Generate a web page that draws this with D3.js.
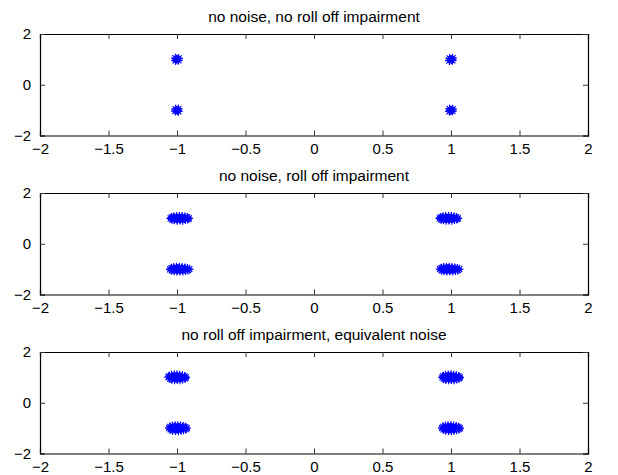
<!DOCTYPE html>
<html><head><meta charset="utf-8">
<script src="https://cdn.jsdelivr.net/npm/d3@7"></script>
<style>html,body{margin:0;padding:0;background:#fff;}svg{display:block;}</style>
</head><body>
<script>
const titles = [
  "no noise, no roll off impairment",
  "no noise, roll off impairment",
  "no roll off impairment, equivalent noise"
];
const xTicks = [-2, -1.5, -1, -0.5, 0, 0.5, 1, 1.5, 2];
const yTicks = [-2, 0, 2];

const noNoiseNoRollOff = [
  [-1.0,1.0],[-1.012,1.05],[-0.99,0.96],[-1.01,0.95],[-0.988,1.04],[-1.005,1.02],
  [-1.0,-1.0],[-1.01,-0.96],[-0.99,-1.05],[-1.012,-1.04],[-0.99,-0.95],[-0.996,-1.02],
  [1.0,1.0],[0.99,1.04],[1.01,0.96],[0.988,0.95],[1.012,1.05],[1.004,0.98],
  [1.0,-1.0],[0.99,-0.95],[1.01,-1.04],[1.012,-0.96],[0.988,-1.05],[0.996,-1.01]
];

const noNoiseRollOff = [
  [-1.046,1.00],[-1.038,1.04],[-1.036,0.96],[-1.022,1.07],[-1.020,0.94],[-1.025,1.01],[-1.003,1.08],[-1.000,0.92],[-1.005,1.03],[-0.998,0.98],[-0.982,1.08],[-0.978,0.93],[-0.980,1.01],[-0.962,1.08],[-0.958,0.92],[-0.960,0.99],[-0.942,1.06],[-0.938,0.95],[-0.945,1.02],[-0.925,1.04],[-0.922,0.97],[-0.914,1.00],
  [-1.050,-1.01],[-1.040,-0.96],[-1.038,-1.05],[-1.024,-0.93],[-1.021,-1.07],[-1.028,-0.99],[-1.004,-0.92],[-1.001,-1.08],[-1.006,-1.02],[-0.997,-0.97],[-0.983,-0.92],[-0.979,-1.08],[-0.981,-1.00],[-0.963,-0.93],[-0.957,-1.08],[-0.960,-1.01],[-0.941,-0.95],[-0.937,-1.06],[-0.944,-0.99],[-0.924,-0.97],[-0.921,-1.04],[-0.910,-1.00],
  [0.918,1.00],[0.926,1.04],[0.928,0.96],[0.942,1.07],[0.944,0.94],[0.939,1.01],[0.961,1.08],[0.964,0.92],[0.959,1.03],[0.966,0.98],[0.982,1.08],[0.986,0.93],[0.984,1.01],[1.002,1.08],[1.006,0.92],[1.004,0.99],[1.022,1.06],[1.026,0.95],[1.019,1.02],[1.039,1.04],[1.042,0.97],[1.050,1.00],
  [0.920,-1.00],[0.930,-0.96],[0.932,-1.05],[0.946,-0.93],[0.949,-1.07],[0.942,-0.99],[0.966,-0.92],[0.969,-1.08],[0.964,-1.02],[0.973,-0.97],[0.987,-0.92],[0.991,-1.08],[0.989,-1.00],[1.007,-0.93],[1.013,-1.08],[1.010,-1.01],[1.029,-0.95],[1.033,-1.06],[1.026,-0.99],[1.046,-0.97],[1.049,-1.04],[1.060,-1.00]
];

const equivalentNoise = [
  [-1.062,1.01],[-1.055,1.05],[-1.050,0.95],[-1.040,1.09],[-1.038,0.92],[-1.042,1.00],[-1.020,1.10],[-1.018,0.90],[-1.022,1.04],[-1.015,0.97],[-1.000,1.11],[-0.998,0.91],[-1.002,1.02],[-0.980,1.09],[-0.978,0.90],[-0.982,0.98],[-0.960,1.07],[-0.958,0.93],[-0.964,1.02],[-0.945,1.04],[-0.942,0.96],[-0.936,1.00],
  [-1.056,-1.00],[-1.050,-0.95],[-1.046,-1.05],[-1.034,-0.91],[-1.032,-1.09],[-1.038,-1.01],[-1.014,-0.90],[-1.012,-1.10],[-1.018,-0.97],[-1.008,-1.03],[-0.994,-0.90],[-0.990,-1.11],[-0.996,-1.00],[-0.974,-0.91],[-0.970,-1.09],[-0.976,-1.02],[-0.956,-0.93],[-0.952,-1.07],[-0.958,-0.98],[-0.940,-0.96],[-0.936,-1.04],[-0.930,-1.00],
  [0.938,1.00],[0.944,1.05],[0.948,0.95],[0.960,1.09],[0.962,0.91],[0.957,1.01],[0.980,1.10],[0.983,0.90],[0.978,1.03],[0.986,0.97],[1.000,1.11],[1.003,0.91],[0.998,1.01],[1.020,1.09],[1.023,0.90],[1.018,0.98],[1.040,1.07],[1.043,0.93],[1.036,1.02],[1.055,1.04],[1.058,0.96],[1.064,1.00],
  [0.936,-1.00],[0.942,-0.95],[0.946,-1.05],[0.958,-0.91],[0.961,-1.09],[0.955,-1.01],[0.978,-0.90],[0.982,-1.10],[0.976,-0.97],[0.985,-1.03],[0.999,-0.90],[1.002,-1.11],[0.997,-1.00],[1.019,-0.91],[1.022,-1.09],[1.016,-1.02],[1.038,-0.93],[1.042,-1.07],[1.035,-0.98],[1.054,-0.96],[1.058,-1.04],[1.064,-1.00]
];

const panelData = [noNoiseNoRollOff, noNoiseRollOff, equivalentNoise];

const W = 618, H = 475;
const left = 40, right = 588, panelH = 101.5;
const tops = [34, 193, 352];
const font = "'Liberation Sans', Arial, Helvetica, sans-serif";
const fmt = v => (v < 0 ? "\u2212" : "") + Math.abs(v);

const svg = d3.select("body").append("svg").attr("width", W).attr("height", H);

const x = d3.scaleLinear().domain([-2, 2]).range([left, right]);

const starPath = (r) => {
  const d = r * Math.SQRT1_2;
  return `M${-r},0L${r},0M0,${-r}L0,${r}M${-d},${-d}L${d},${d}M${-d},${d}L${d},${-d}`;
};

panelData.forEach((pts, i) => {
  const top = tops[i];
  const y = d3.scaleLinear().domain([-2, 2]).range([top + panelH, top]);
  const g = svg.append("g");

  g.append("g").selectAll("path").data(pts).join("path")
    .attr("transform", d => `translate(${x(d[0])},${y(d[1])})`)
    .attr("d", starPath(4.3))
    .attr("stroke", "#0000ff").attr("stroke-width", 1.1).attr("fill", "none");

  const bottomAx = d3.axisBottom(x).tickValues(xTicks).tickSize(-5).tickPadding(8).tickFormat(fmt);
  const topAx = d3.axisTop(x).tickValues(xTicks).tickSize(-5).tickFormat("");
  const leftAx = d3.axisLeft(y).tickValues(yTicks).tickSize(-5).tickPadding(9).tickFormat(fmt);
  const rightAx = d3.axisRight(y).tickValues(yTicks).tickSize(-5).tickFormat("");

  const styleAx = sel => {
    sel.selectAll(".domain").attr("stroke", "#000").attr("stroke-width", 1.2);
    sel.selectAll(".tick line").attr("stroke", "#333").attr("stroke-width", 1);
    sel.selectAll("text").attr("fill", "#000").style("font-family", font).style("font-size", "15px");
  };
  g.append("g").attr("transform", `translate(0,${top + panelH})`).call(bottomAx).call(styleAx);
  g.append("g").attr("transform", `translate(0,${top})`).call(topAx).call(styleAx);
  g.append("g").attr("transform", `translate(${left},0)`).call(leftAx).call(styleAx);
  g.append("g").attr("transform", `translate(${right},0)`).call(rightAx).call(styleAx);

  g.append("text")
    .attr("x", (left + right) / 2).attr("y", top - 12)
    .attr("text-anchor", "middle")
    .style("font-family", font).style("font-size", "15.5px")
    .attr("fill", "#000")
    .text(titles[i]);
});
</script>
</body></html>
